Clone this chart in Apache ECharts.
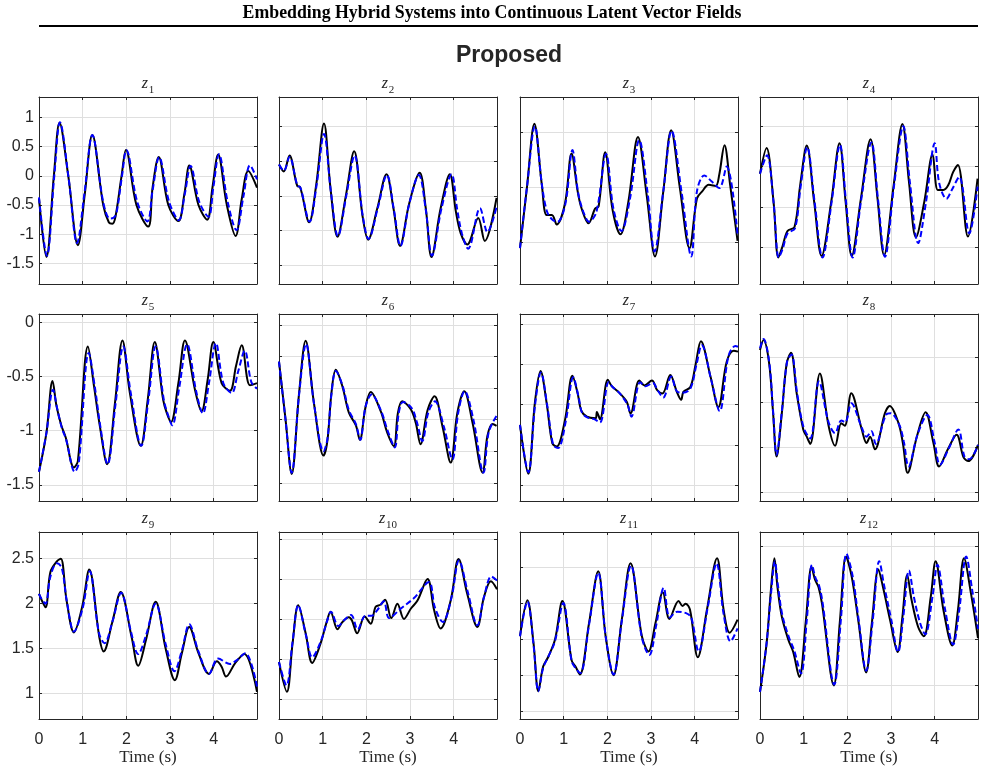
<!DOCTYPE html>
<html>
<head>
<meta charset="utf-8">
<script src="https://cdn.jsdelivr.net/npm/echarts@6/dist/echarts.min.js"></script>
<style>
  html, body { margin: 0; padding: 0; background: #fff; }
  #main { width: 985px; height: 772px; }
</style>
</head>
<body>
<div id="main"></div>
<script>
// 每个子图: [时间(s), 值] —— 黑色实线为真实值, 蓝色虚线为预测值
var z1True = [[0,-0.39],[0.17,-1.39],[0.34,0],[0.47,0.91],[0.67,0],[0.89,-1.19],[1.05,-0.3],[1.22,0.70],[1.47,-0.5],[1.6,-0.8],[1.68,-0.82],[1.75,-0.7],[1.89,0],[1.99,0.445],[2.23,-0.5],[2.5,-0.87],[2.6,-0.2],[2.74,0.325],[2.96,-0.5],[3.19,-0.775],[3.33,-0.3],[3.44,0.18],[3.65,-0.5],[3.85,-0.75],[3.97,-0.2],[4.1,0.365],[4.3,-0.5],[4.5,-1.03],[4.64,-0.4],[4.79,0.085],[4.99,-0.2]];
var z1Pred = [[0,-0.37],[0.18,-1.37],[0.35,0],[0.48,0.92],[0.68,-0.05],[0.87,-1.15],[1.04,-0.3],[1.22,0.70],[1.47,-0.45],[1.62,-0.73],[1.7,-0.72],[1.77,-0.65],[1.9,0],[2.0,0.44],[2.25,-0.45],[2.48,-0.78],[2.6,-0.25],[2.75,0.32],[2.98,-0.45],[3.2,-0.76],[3.34,-0.3],[3.47,0.17],[3.67,-0.45],[3.88,-0.70],[3.99,-0.2],[4.12,0.37],[4.32,-0.45],[4.52,-0.93],[4.68,-0.35],[4.83,0.18],[4.99,-0.06]];

var z2True = [[0,0.45],[0.11,0.35],[0.24,0.58],[0.42,0.14],[0.48,0.13],[0.69,-0.38],[0.85,0.15],[1.03,1.04],[1.18,0.1],[1.34,-0.59],[1.53,0],[1.72,0.64],[1.91,-0.28],[2.04,-0.63],[2.25,-0.18],[2.46,0.31],[2.62,-0.18],[2.77,-0.72],[2.98,-0.11],[3.22,0.33],[3.36,-0.18],[3.49,-0.88],[3.7,-0.18],[3.91,0.31],[4.05,-0.23],[4.16,-0.54],[4.31,-0.70],[4.56,-0.32],[4.71,-0.65],[4.98,-0.03]];
var z2Pred = [[0,0.45],[0.11,0.36],[0.24,0.56],[0.42,0.15],[0.49,0.12],[0.7,-0.37],[0.86,0.15],[1.03,0.89],[1.19,0.05],[1.35,-0.58],[1.54,0],[1.73,0.58],[1.92,-0.3],[2.05,-0.62],[2.26,-0.18],[2.47,0.3],[2.63,-0.2],[2.78,-0.72],[2.98,-0.12],[3.2,0.3],[3.36,-0.2],[3.5,-0.86],[3.72,-0.18],[3.95,0.31],[4.08,-0.2],[4.19,-0.55],[4.33,-0.76],[4.6,-0.18],[4.77,-0.52],[4.98,-0.16]];

var z3True = [[0,-1.11],[0.16,0],[0.33,1.15],[0.5,0.04],[0.61,-0.51],[0.73,-0.51],[0.84,-0.68],[1.03,-0.3],[1.18,0.61],[1.32,-0.08],[1.41,-0.39],[1.57,-0.66],[1.72,-0.39],[1.8,-0.35],[1.95,0.63],[2.12,-0.42],[2.3,-0.86],[2.48,-0.27],[2.7,0.91],[2.9,-0.15],[3.09,-1.26],[3.28,-0.08],[3.46,1.03],[3.66,-0.02],[3.88,-1.11],[4.05,-0.21],[4.17,-0.08],[4.32,0.04],[4.48,0.02],[4.56,0.22],[4.68,0.76],[4.81,0.04],[4.98,-0.98]];
var z3Pred = [[0,-1.11],[0.16,0],[0.34,1.1],[0.5,0.05],[0.62,-0.45],[0.75,-0.6],[0.86,-0.63],[1.04,-0.3],[1.2,0.67],[1.33,-0.1],[1.45,-0.45],[1.58,-0.63],[1.75,-0.45],[1.97,0.6],[2.14,-0.4],[2.32,-0.8],[2.52,-0.2],[2.73,0.85],[2.92,-0.1],[3.08,-1.17],[3.28,-0.08],[3.47,1.02],[3.7,-0.1],[3.92,-1.26],[4.05,-0.08],[4.22,0.21],[4.39,0.1],[4.56,-0.02],[4.73,0.37],[4.98,-0.87]];

var z4True = [[0,0.41],[0.15,0.73],[0.31,0.06],[0.42,-0.63],[0.51,-0.5],[0.63,-0.3],[0.79,-0.25],[0.92,0.27],[1.07,0.76],[1.24,0.06],[1.41,-0.61],[1.63,0.06],[1.82,0.79],[1.96,0.06],[2.1,-0.61],[2.31,0.1],[2.53,0.84],[2.69,0.1],[2.84,-0.6],[3.06,0.27],[3.26,1.03],[3.41,0.31],[3.57,-0.38],[3.76,0.06],[3.95,0.65],[4.07,0.21],[4.2,0.21],[4.31,0.27],[4.42,0.43],[4.53,0.52],[4.76,-0.37],[4.98,0.35]];
var z4Pred = [[0,0.41],[0.16,0.64],[0.31,0.06],[0.43,-0.63],[0.52,-0.52],[0.63,-0.33],[0.8,-0.27],[0.93,0.25],[1.08,0.74],[1.25,0.06],[1.43,-0.63],[1.64,0.06],[1.83,0.77],[1.97,0.06],[2.12,-0.63],[2.32,0.1],[2.55,0.8],[2.7,0.1],[2.86,-0.62],[3.07,0.27],[3.28,1.0],[3.43,0.31],[3.62,-0.45],[3.8,0.06],[4.0,0.79],[4.1,0.3],[4.27,0.1],[4.39,0.21],[4.56,0.37],[4.79,-0.33],[4.98,0.25]];

var z5True = [[0,-1.38],[0.17,-1.02],[0.31,-0.54],[0.4,-0.77],[0.51,-0.95],[0.61,-1.06],[0.8,-1.34],[0.89,-1.28],[1.12,-0.22],[1.26,-0.59],[1.39,-0.95],[1.56,-1.31],[1.74,-0.74],[1.91,-0.165],[2.08,-0.65],[2.33,-1.14],[2.49,-0.71],[2.65,-0.18],[2.84,-0.71],[2.92,-0.83],[3.02,-0.92],[3.19,-0.56],[3.34,-0.165],[3.57,-0.62],[3.72,-0.82],[3.86,-0.53],[3.99,-0.18],[4.18,-0.56],[4.37,-0.63],[4.51,-0.4],[4.64,-0.21],[4.83,-0.58],[4.99,-0.56]];
var z5Pred = [[0,-1.38],[0.17,-1.02],[0.32,-0.62],[0.42,-0.8],[0.52,-0.97],[0.62,-1.08],[0.82,-1.38],[0.91,-1.3],[1.14,-0.28],[1.28,-0.6],[1.4,-0.95],[1.57,-1.31],[1.75,-0.76],[1.93,-0.22],[2.1,-0.65],[2.34,-1.14],[2.5,-0.73],[2.67,-0.22],[2.86,-0.72],[2.95,-0.85],[3.05,-0.95],[3.21,-0.6],[3.39,-0.2],[3.6,-0.64],[3.75,-0.84],[3.89,-0.56],[4.05,-0.19],[4.22,-0.56],[4.41,-0.65],[4.56,-0.45],[4.71,-0.26],[4.86,-0.55],[4.99,-0.61]];

var z6True = [[0,-0.08],[0.15,-1.0],[0.29,-1.86],[0.46,-0.58],[0.61,0.25],[0.8,-0.74],[1.02,-1.57],[1.11,-1.32],[1.2,-0.58],[1.3,-0.21],[1.45,-0.47],[1.6,-0.89],[1.76,-1.09],[1.85,-1.32],[1.98,-0.8],[2.1,-0.56],[2.33,-0.87],[2.48,-1.21],[2.63,-1.42],[2.72,-0.9],[2.82,-0.71],[3.02,-0.84],[3.13,-1.05],[3.24,-1.39],[3.4,-0.85],[3.56,-0.63],[3.74,-1.1],[3.93,-1.68],[4.08,-0.9],[4.24,-0.55],[4.43,-1.05],[4.66,-1.84],[4.77,-1.26],[4.89,-1.07],[4.98,-1.1]];
var z6Pred = [[0,-0.08],[0.15,-1.0],[0.29,-1.84],[0.46,-0.6],[0.62,0.2],[0.8,-0.74],[1.02,-1.5],[1.11,-1.3],[1.2,-0.6],[1.3,-0.23],[1.45,-0.45],[1.6,-0.85],[1.76,-1.07],[1.86,-1.32],[1.98,-0.8],[2.12,-0.6],[2.33,-0.85],[2.5,-1.2],[2.65,-1.44],[2.74,-0.9],[2.84,-0.72],[3.04,-0.82],[3.16,-1.05],[3.28,-1.34],[3.42,-0.88],[3.57,-0.71],[3.77,-1.1],[3.97,-1.63],[4.1,-0.9],[4.25,-0.55],[4.45,-1.0],[4.68,-1.84],[4.8,-1.2],[4.98,-0.94]];

var z7True = [[0,-0.75],[0.19,-1.36],[0.34,-0.48],[0.47,-0.08],[0.61,-0.48],[0.74,-0.98],[0.84,-1.02],[1.03,-0.69],[1.2,-0.14],[1.32,-0.36],[1.4,-0.57],[1.53,-0.65],[1.73,-0.67],[1.76,-0.59],[1.83,-0.68],[2.01,-0.19],[2.1,-0.27],[2.25,-0.34],[2.44,-0.46],[2.53,-0.61],[2.73,-0.2],[2.85,-0.26],[3.02,-0.2],[3.14,-0.32],[3.26,-0.36],[3.44,-0.13],[3.59,-0.34],[3.69,-0.44],[3.74,-0.34],[3.9,-0.28],[4.02,0],[4.14,0.29],[4.36,-0.15],[4.54,-0.53],[4.73,0.03],[4.89,0.17],[4.99,0.16]];
var z7Pred = [[0,-0.75],[0.19,-1.34],[0.35,-0.48],[0.48,-0.1],[0.62,-0.5],[0.76,-1.0],[0.87,-1.04],[1.05,-0.7],[1.22,-0.16],[1.34,-0.4],[1.42,-0.6],[1.55,-0.66],[1.7,-0.68],[1.83,-0.72],[2.03,-0.22],[2.12,-0.28],[2.27,-0.35],[2.46,-0.5],[2.55,-0.65],[2.75,-0.22],[2.87,-0.27],[3.04,-0.23],[3.16,-0.33],[3.28,-0.41],[3.46,-0.15],[3.6,-0.34],[3.72,-0.35],[3.9,-0.3],[4.04,0],[4.16,0.24],[4.38,-0.2],[4.57,-0.58],[4.77,0.1],[4.93,0.23],[4.99,0.22]];

var z8True = [[0,0.08],[0.08,0.19],[0.21,-0.07],[0.3,-0.62],[0.38,-1.1],[0.5,-0.62],[0.61,-0.07],[0.71,0.05],[0.84,-0.40],[0.99,-0.8],[1.07,-0.88],[1.15,-0.96],[1.37,-0.18],[1.57,-0.76],[1.72,-0.98],[1.86,-0.73],[1.94,-0.76],[2.09,-0.40],[2.33,-0.8],[2.44,-0.95],[2.52,-0.88],[2.63,-1.02],[2.86,-0.62],[2.97,-0.54],[3.17,-0.73],[3.27,-0.95],[3.38,-1.28],[3.59,-0.88],[3.79,-0.61],[3.97,-0.95],[4.1,-1.21],[4.3,-1.02],[4.5,-0.86],[4.66,-1.11],[4.77,-1.15],[4.99,-0.97]];
var z8Pred = [[0,0.1],[0.08,0.2],[0.21,-0.05],[0.3,-0.6],[0.38,-1.08],[0.5,-0.6],[0.62,-0.05],[0.72,0.03],[0.85,-0.4],[1.0,-0.78],[1.15,-0.9],[1.35,-0.27],[1.57,-0.72],[1.72,-0.84],[1.86,-0.7],[1.95,-0.72],[2.09,-0.51],[2.33,-0.78],[2.44,-0.88],[2.55,-0.82],[2.65,-0.96],[2.88,-0.64],[2.99,-0.62],[3.18,-0.74],[3.29,-0.93],[3.4,-1.21],[3.61,-0.85],[3.83,-0.64],[4.0,-0.95],[4.12,-1.19],[4.33,-1.0],[4.54,-0.8],[4.68,-1.1],[4.79,-1.13],[4.99,-0.97]];

var z9True = [[0,2.11],[0.05,2.05],[0.15,1.96],[0.26,2.35],[0.41,2.47],[0.5,2.5],[0.63,2.04],[0.8,1.68],[0.99,1.97],[1.15,2.38],[1.38,1.63],[1.48,1.47],[1.68,1.8],[1.87,2.13],[2.12,1.63],[2.27,1.31],[2.45,1.6],[2.67,2.02],[2.9,1.5],[3.11,1.15],[3.27,1.45],[3.44,1.74],[3.65,1.45],[3.89,1.22],[4.07,1.36],[4.18,1.30],[4.28,1.19],[4.49,1.34],[4.7,1.44],[4.99,1.02]];
var z9Pred = [[0,2.11],[0.05,2.06],[0.15,2.0],[0.26,2.3],[0.41,2.45],[0.52,2.4],[0.64,2.02],[0.8,1.69],[1.0,1.95],[1.16,2.36],[1.37,1.68],[1.5,1.56],[1.68,1.8],[1.88,2.12],[2.1,1.7],[2.27,1.44],[2.45,1.65],[2.67,2.0],[2.9,1.55],[3.1,1.25],[3.27,1.48],[3.44,1.77],[3.65,1.47],[3.89,1.22],[4.1,1.39],[4.37,1.33],[4.52,1.37],[4.72,1.45],[4.99,1.08]];

var z10True = [[0,0.97],[0.18,0.6],[0.31,1.2],[0.44,1.68],[0.61,1.33],[0.76,0.96],[0.95,1.2],[1.09,1.47],[1.18,1.6],[1.34,1.38],[1.45,1.47],[1.6,1.53],[1.67,1.49],[1.79,1.33],[1.96,1.54],[2.1,1.45],[2.21,1.66],[2.33,1.69],[2.43,1.75],[2.57,1.52],[2.71,1.70],[2.86,1.51],[3.02,1.64],[3.17,1.74],[3.4,2.01],[3.55,1.62],[3.7,1.39],[3.93,1.74],[4.11,2.26],[4.31,1.82],[4.54,1.41],[4.69,1.78],[4.85,1.98],[4.99,1.88]];
var z10Pred = [[0,0.97],[0.17,0.68],[0.31,1.22],[0.44,1.68],[0.62,1.3],[0.76,1.03],[0.95,1.22],[1.1,1.48],[1.19,1.6],[1.36,1.42],[1.5,1.5],[1.65,1.56],[1.8,1.38],[1.98,1.55],[2.12,1.55],[2.25,1.62],[2.4,1.73],[2.52,1.52],[2.79,1.64],[3.09,1.77],[3.43,1.97],[3.57,1.65],[3.75,1.47],[3.95,1.78],[4.12,2.24],[4.32,1.85],[4.54,1.43],[4.7,1.8],[4.86,2.04],[4.99,1.99]];

var z11True = [[0,0.04],[0.17,0.54],[0.31,-0.06],[0.42,-0.72],[0.53,-0.38],[0.65,-0.24],[0.8,-0.01],[0.97,0.53],[1.18,-0.29],[1.27,-0.38],[1.37,-0.49],[1.58,0.22],[1.79,0.94],[1.96,0.04],[2.14,-0.5],[2.33,0.27],[2.53,1.05],[2.79,0.04],[2.94,-0.17],[3.1,0.22],[3.27,0.65],[3.42,0.28],[3.63,0.53],[3.72,0.46],[3.79,0.49],[3.89,0.41],[4.07,-0.25],[4.28,0.41],[4.51,1.12],[4.66,0.41],[4.8,0.09],[4.98,0.27]];
var z11Pred = [[0,0.04],[0.17,0.52],[0.31,-0.08],[0.42,-0.72],[0.53,-0.4],[0.65,-0.24],[0.8,-0.03],[0.99,0.5],[1.18,-0.3],[1.27,-0.4],[1.38,-0.47],[1.58,0.2],[1.79,0.92],[1.97,0],[2.14,-0.49],[2.33,0.25],[2.54,1.02],[2.79,0.02],[2.96,-0.22],[3.12,0.2],[3.29,0.71],[3.43,0.3],[3.6,0.38],[3.8,0.36],[3.92,0.3],[4.09,-0.17],[4.3,0.45],[4.5,1.05],[4.66,0.35],[4.82,-0.03],[4.98,0.15]];

var z12True = [[0,-0.57],[0.15,-0.05],[0.25,0.53],[0.33,0.87],[0.4,0.56],[0.5,0.24],[0.65,-0.01],[0.76,-0.14],[0.9,-0.41],[1.05,0.2],[1.18,0.78],[1.26,0.64],[1.34,0.56],[1.42,0.38],[1.69,-0.5],[1.83,0.2],[1.97,0.89],[2.1,0.67],[2.25,0.2],[2.43,-0.36],[2.56,0.17],[2.71,0.75],[2.82,0.55],[2.98,0.2],[3.15,-0.14],[3.26,0.24],[3.37,0.69],[3.47,0.42],[3.62,0.13],[3.75,0.03],[3.91,0.46],[4.02,0.84],[4.2,0.31],[4.4,-0.07],[4.53,0.31],[4.67,0.87],[4.83,0.49],[4.99,0.01]];
var z12Pred = [[0,-0.57],[0.15,-0.05],[0.26,0.53],[0.34,0.84],[0.41,0.58],[0.51,0.26],[0.66,0.02],[0.78,-0.12],[0.94,-0.37],[1.07,0.2],[1.19,0.8],[1.27,0.66],[1.35,0.58],[1.43,0.4],[1.7,-0.49],[1.85,0.2],[1.98,0.92],[2.12,0.68],[2.26,0.2],[2.43,-0.34],[2.58,0.2],[2.73,0.84],[2.84,0.58],[3.0,0.22],[3.16,-0.14],[3.28,0.24],[3.41,0.74],[3.52,0.46],[3.66,0.18],[3.78,0.05],[3.95,0.46],[4.06,0.8],[4.24,0.31],[4.42,-0.06],[4.56,0.31],[4.72,0.89],[4.86,0.52],[4.99,0.11]];

var trueData = [z1True, z2True, z3True, z4True, z5True, z6True, z7True, z8True, z9True, z10True, z11True, z12True];
var predData = [z1Pred, z2Pred, z3Pred, z4Pred, z5Pred, z6Pred, z7Pred, z8Pred, z9Pred, z10Pred, z11Pred, z12Pred];

// y 轴范围与刻度间隔
var yMin  = [-1.854, -1.268, -1.761, -0.959, -1.65, -2.289, -1.698, -1.592, 0.719, 0.259, -1.106, -0.862];
var yMax  = [1.353, 1.421, 1.634, 1.364, 0.08, 0.674, 0.628, 0.478, 2.796, 2.596, 1.484, 1.154];
var yStep = [0.5, 0.5, 1, 0.5, 0.5, 0.5, 0.5, 0.5, 0.5, 0.5, 0.5, 0.5];
var tMax = 4.99;

var myChart = echarts.init(document.getElementById('main'));

var colLeft = [39, 279, 520, 760];
var rowTop = [97, 314, 532];
var boxW = 218, boxH = 187;
var axisColor = '#262626';
var gridColor = '#dfdfdf';

var grids = [], xAxes = [], yAxes = [], series = [];
var titles = [
    {
        text: 'Embedding Hybrid Systems into Continuous Latent Vector Fields',
        left: 492, top: 4, textAlign: 'center', padding: 0,
        textStyle: { fontFamily: 'Liberation Serif', fontWeight: 'bold', fontSize: 17.8, color: '#000' }
    },
    {
        text: 'Proposed',
        left: 509, top: 44, textAlign: 'center', padding: 0,
        textStyle: { fontFamily: 'Liberation Sans', fontWeight: 'bold', fontSize: 23, color: '#262626' }
    }
];

for (var i = 0; i < 12; i++) {
    var r = Math.floor(i / 4), c = i % 4;
    var lastRow = (r === 2), firstCol = (c === 0);
    grids.push({ left: colLeft[c], top: rowTop[r], width: boxW, height: boxH });

    xAxes.push({
        gridIndex: i, type: 'value', min: 0, max: tMax, interval: 1, position: 'bottom',
        axisLine: { show: true, onZero: false, lineStyle: { color: axisColor, width: 1 } },
        axisTick: { show: true, inside: true, length: 3, lineStyle: { color: axisColor } },
        axisLabel: { show: lastRow, showMaxLabel: false, margin: 13, color: axisColor, fontSize: 16, fontFamily: 'Liberation Sans' },
        splitLine: { show: true, showMinLine: false, showMaxLine: false, lineStyle: { color: gridColor, width: 1 } },
        name: lastRow ? 'Time (s)' : '', nameLocation: 'middle', nameGap: 29,
        nameTextStyle: { fontFamily: 'Liberation Serif', fontSize: 17, color: axisColor }
    });
    xAxes.push({
        gridIndex: i, type: 'value', min: 0, max: tMax, interval: 1, position: 'top',
        axisLine: { show: true, onZero: false, lineStyle: { color: axisColor, width: 1 } },
        axisTick: { show: true, inside: true, length: 3, lineStyle: { color: axisColor } },
        axisLabel: { show: false }, splitLine: { show: false }
    });
    yAxes.push({
        gridIndex: i, type: 'value', min: yMin[i], max: yMax[i],
        minInterval: yStep[i], maxInterval: yStep[i], position: 'left',
        axisLine: { show: true, onZero: false, lineStyle: { color: axisColor, width: 1 } },
        axisTick: { show: true, inside: true, length: 3, lineStyle: { color: axisColor } },
        axisLabel: { show: firstCol, showMinLabel: false, showMaxLabel: false, margin: 5, color: axisColor, fontSize: 16, fontFamily: 'Liberation Sans' },
        splitLine: { show: true, showMinLine: false, showMaxLine: false, lineStyle: { color: gridColor, width: 1 } }
    });
    yAxes.push({
        gridIndex: i, type: 'value', min: yMin[i], max: yMax[i],
        minInterval: yStep[i], maxInterval: yStep[i], position: 'right',
        axisLine: { show: true, onZero: false, lineStyle: { color: axisColor, width: 1 } },
        axisTick: { show: true, inside: true, length: 3, lineStyle: { color: axisColor } },
        axisLabel: { show: false }, splitLine: { show: false }
    });

    series.push({
        type: 'line', xAxisIndex: 2 * i, yAxisIndex: 2 * i, data: trueData[i],
        showSymbol: false, smooth: 0.35, silent: true,
        lineStyle: { color: '#000000', width: 2 }, itemStyle: { color: '#000000' }
    });
    series.push({
        type: 'line', xAxisIndex: 2 * i, yAxisIndex: 2 * i, data: predData[i],
        showSymbol: false, smooth: 0.35, silent: true,
        lineStyle: { color: '#0000ff', width: 2, type: [6, 3] }, itemStyle: { color: '#0000ff' }
    });

    titles.push({
        text: '{z|z}{s|' + (i + 1) + '}',
        left: colLeft[c] + boxW / 2, top: rowTop[r] - 21, textAlign: 'center', padding: 0,
        textStyle: {
            fontWeight: 'normal',
            rich: {
                z: { fontFamily: 'Liberation Serif', fontStyle: 'italic', fontWeight: 'normal', fontSize: 16, lineHeight: 16, verticalAlign: 'top', color: axisColor },
                s: { fontFamily: 'Liberation Serif', fontWeight: 'normal', fontSize: 11, lineHeight: 11, padding: [9, 0, 0, 1], verticalAlign: 'top', color: axisColor }
            }
        }
    });
}

var option = {
    animation: false,
    backgroundColor: '#ffffff',
    title: titles,
    grid: grids,
    xAxis: xAxes,
    yAxis: yAxes,
    series: series,
    graphic: [
        { type: 'line', shape: { x1: 39, y1: 26, x2: 978, y2: 26 }, style: { stroke: '#000', lineWidth: 2 } }
    ]
};
myChart.setOption(option);
</script>
</body>
</html>
